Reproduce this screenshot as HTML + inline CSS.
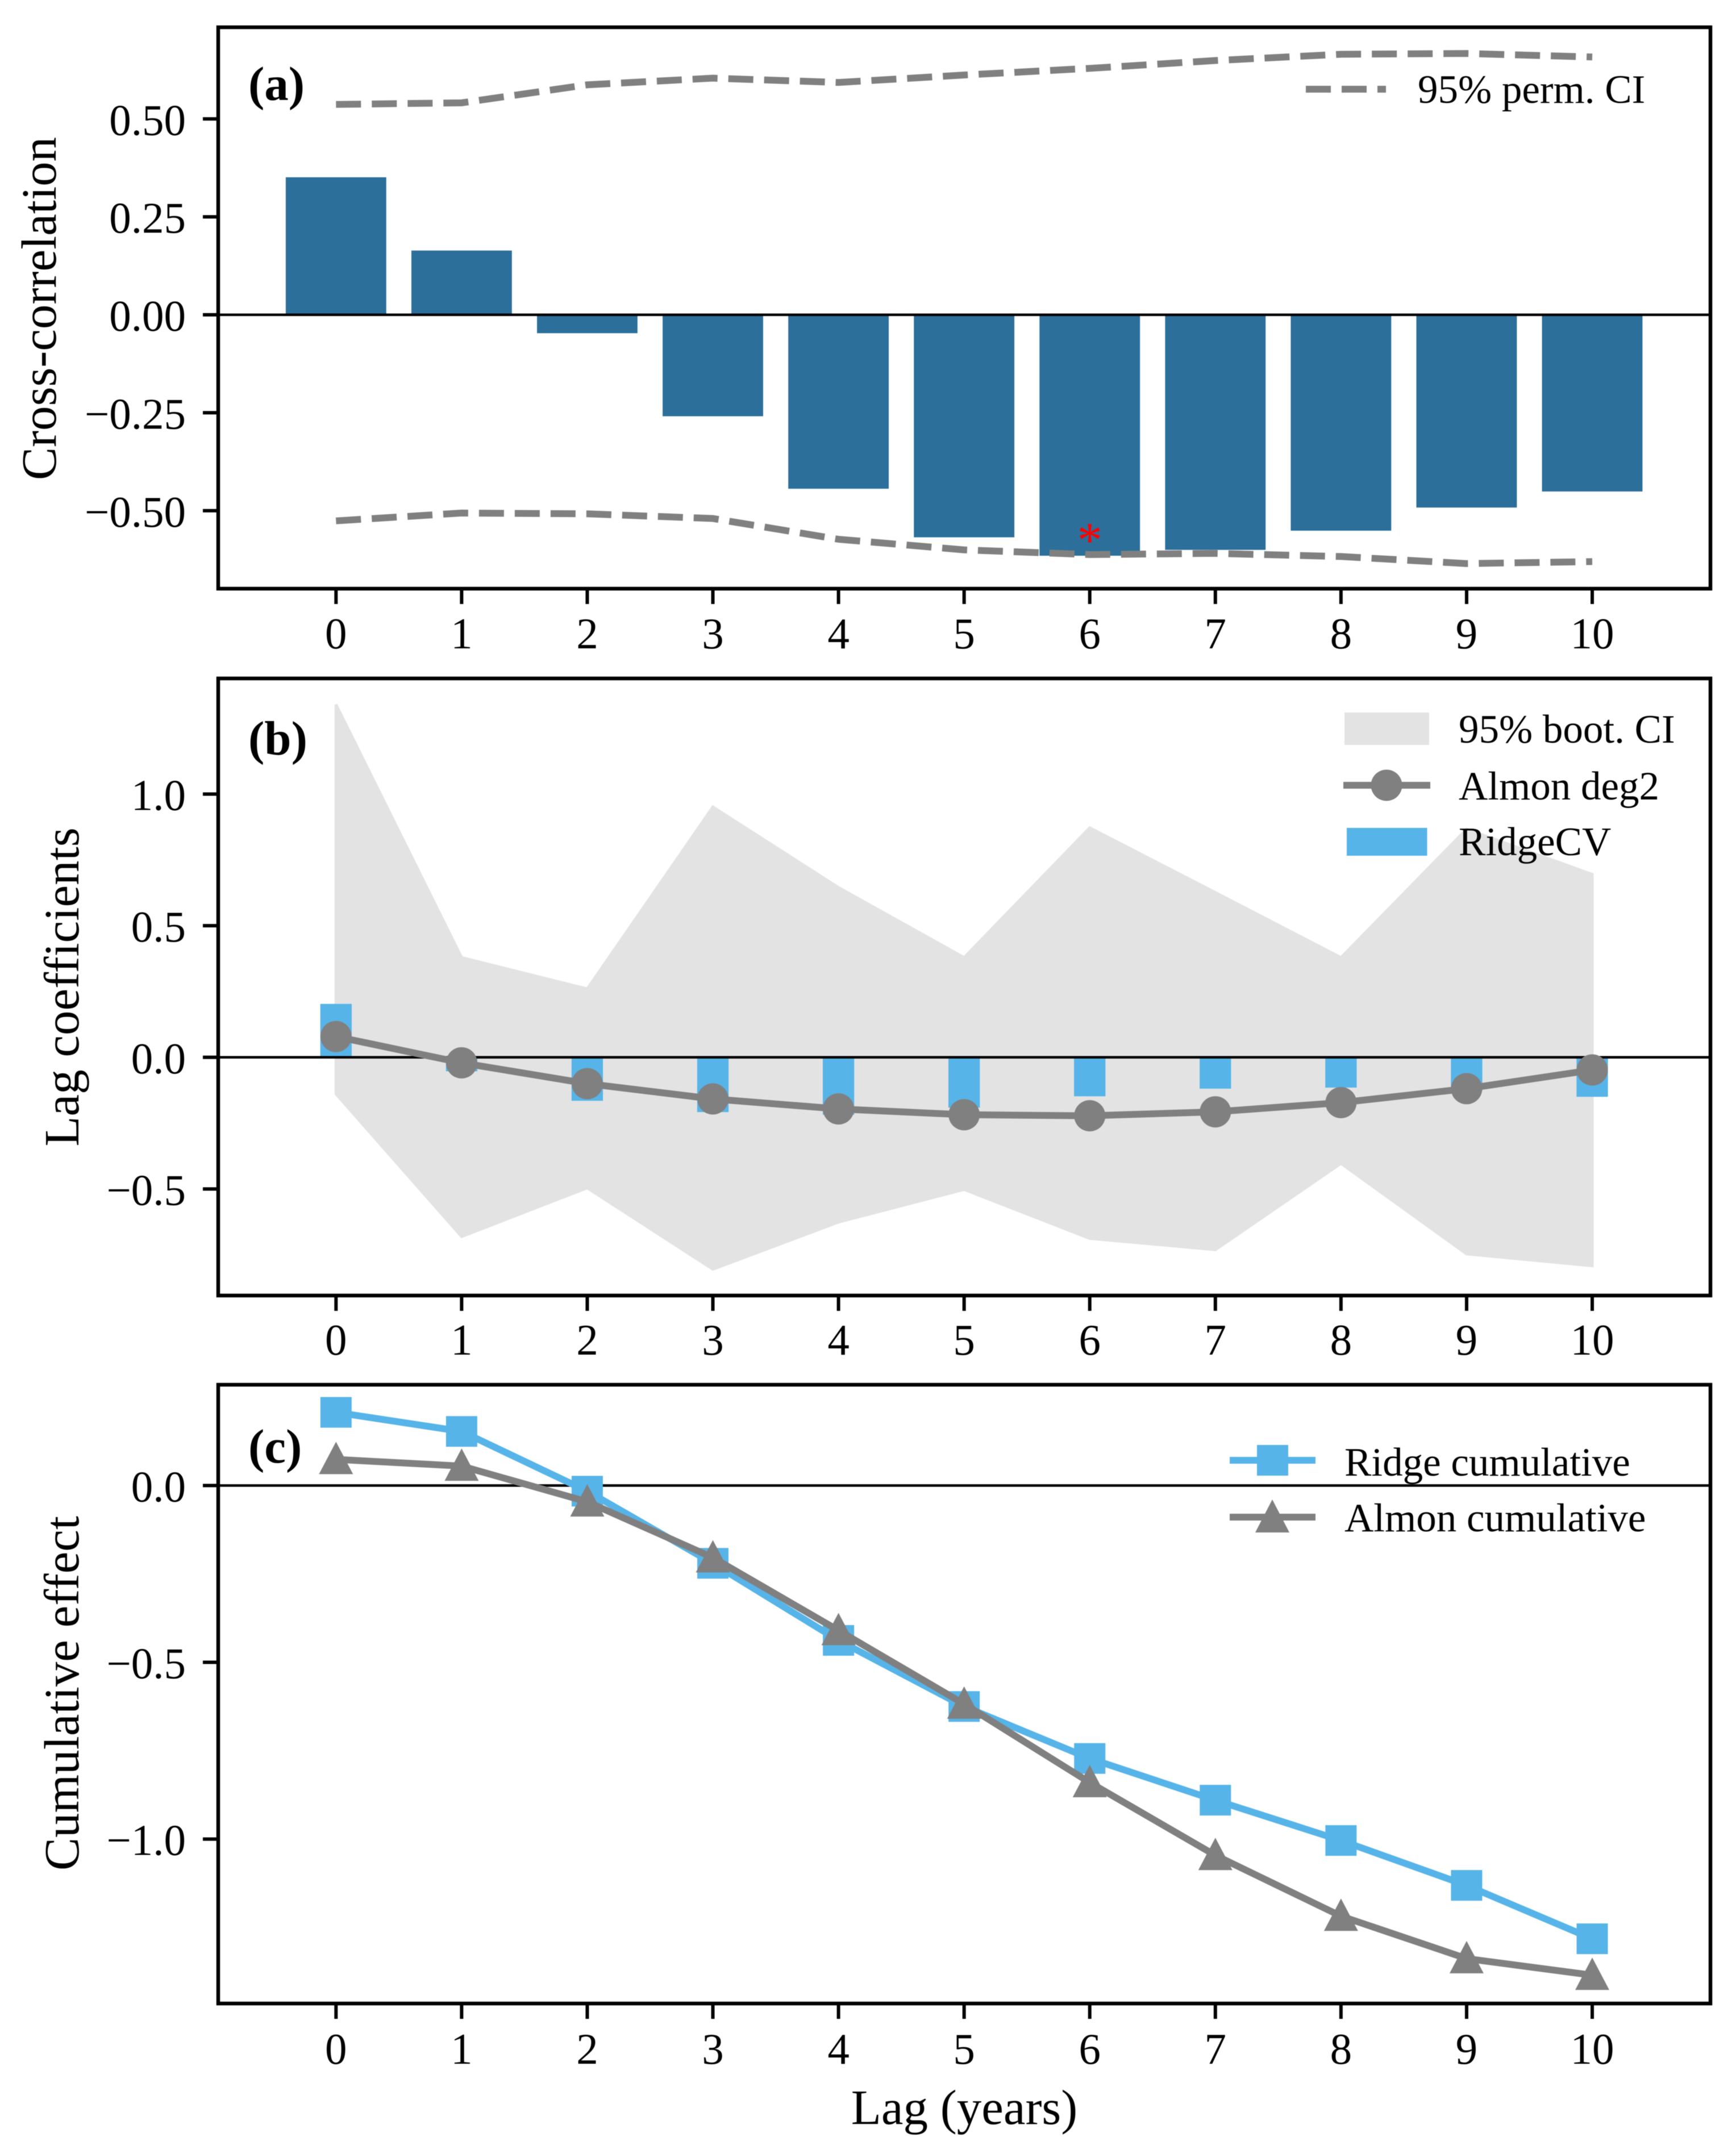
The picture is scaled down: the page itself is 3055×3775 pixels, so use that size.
<!DOCTYPE html>
<html lang="en">
<head>
<meta charset="utf-8">
<title>Lag analysis chart</title>
<style>
html,body{margin:0;padding:0;background:#fff;}
svg{display:block;font-family:"Liberation Serif","Times New Roman",serif;filter:blur(0.6px);}
.tick-label{font-size:77px;fill:#000;}
.axis-title{font-size:87px;fill:#000;}
.legend-text{font-size:71px;fill:#000;}
.panel-label{font-size:85px;font-weight:bold;fill:#000;}
</style>
</head>
<body>
<svg id="chart" xmlns="http://www.w3.org/2000/svg" width="3055" height="3775" viewBox="0 0 3055 3775">
  <rect x="0" y="0" width="3055" height="3775" fill="#ffffff"/>
  <g id="panel-a"></g>
  <g id="panel-b"></g>
  <g id="panel-c"></g>

  <g id="overlay">
    <text class="panel-label" x="437" y="176">(a)</text>
    <text class="panel-label" x="437" y="1328">(b)</text>
    <text class="panel-label" x="437" y="2574">(c)</text>

    <text class="axis-title" text-anchor="middle" transform="translate(98 543) rotate(-90)">Cross-correlation</text>
    <text class="axis-title" text-anchor="middle" transform="translate(138 1737) rotate(-90)">Lag coefficients</text>
    <text class="axis-title" text-anchor="middle" transform="translate(138 2980) rotate(-90)">Cumulative effect</text>
    <text class="axis-title" text-anchor="middle" x="1697" y="3738">Lag (years)</text>

    <g>
      <line x1="2298" y1="157" x2="2439" y2="157" stroke="#808080" stroke-width="12" stroke-dasharray="44 19"/>
      <text class="legend-text" x="2495" y="181">95% perm. CI</text>
    </g>

    <g>
      <rect x="2366" y="1254" width="149" height="57" fill="#e3e3e3"/>
      <text class="legend-text" x="2567" y="1307">95% boot. CI</text>
      <line x1="2364" y1="1382" x2="2517" y2="1382" stroke="#808080" stroke-width="12"/>
      <circle cx="2440" cy="1382" r="27.5" fill="#808080"/>
      <text class="legend-text" x="2567" y="1407">Almon deg2</text>
      <rect x="2370" y="1457" width="141.5" height="49" fill="#56b4e9"/>
      <text class="legend-text" x="2567" y="1505">RidgeCV</text>
    </g>

    <g>
      <line x1="2164" y1="2570" x2="2315" y2="2570" stroke="#56b4e9" stroke-width="12"/>
      <rect x="2212" y="2543" width="55" height="54" fill="#56b4e9"/>
      <text class="legend-text" x="2366" y="2597">Ridge cumulative</text>
      <line x1="2164" y1="2670" x2="2315" y2="2670" stroke="#808080" stroke-width="12"/>
      <polygon points="2239,2639 2269,2697 2209,2697" fill="#808080"/>
      <text class="legend-text" x="2366" y="2695">Almon cumulative</text>
    </g>
  </g>
</svg>

<script>
// ---- data ----
const lags = [0, 1, 2, 3, 4, 5, 6, 7, 8, 9, 10];
const crossCorr = [0.351, 0.164, -0.047, -0.259, -0.444, -0.568, -0.615, -0.600, -0.551, -0.492, -0.451];
const permUpper = [0.537, 0.541, 0.587, 0.604, 0.593, 0.612, 0.629, 0.649, 0.665, 0.667, 0.658];
const permLower = [-0.526, -0.506, -0.508, -0.520, -0.573, -0.600, -0.612, -0.609, -0.617, -0.635, -0.630];
const significantLags = [6];
const bootUpper = [1.340, 0.379, 0.260, 0.951, 0.645, 0.379, 0.872, 0.626, 0.379, 0.867, 0.695];
const bootLower = [-0.139, -0.681, -0.496, -0.805, -0.626, -0.502, -0.688, -0.731, -0.403, -0.747, -0.792];
const ridgeCoef = [0.203, -0.053, -0.165, -0.208, -0.218, -0.191, -0.148, -0.119, -0.115, -0.127, -0.150];
const almonCoef = [0.079, -0.021, -0.100, -0.158, -0.196, -0.218, -0.222, -0.207, -0.172, -0.119, -0.048];
const ridgeCum = [0.207, 0.153, -0.016, -0.220, -0.438, -0.625, -0.772, -0.890, -1.004, -1.131, -1.282];
const almonCum = [0.074, 0.055, -0.046, -0.204, -0.410, -0.618, -0.840, -1.046, -1.218, -1.338, -1.385];
const yTicksA = [0.5, 0.25, 0, -0.25, -0.5];
const yTickLabelsA = ["0.50", "0.25", "0.00", "\u22120.25", "\u22120.50"];
const yTicksB = [1, 0.5, 0, -0.5];
const yTickLabelsB = ["1.0", "0.5", "0.0", "\u22120.5"];
const yTicksC = [0, -0.5, -1];
const yTickLabelsC = ["0.0", "\u22120.5", "\u22121.0"];

// ---- axis functions ----
const AXIS_LEFT = 384, AXIS_RIGHT = 3010;
function xScale(lag) { return 591.3 + 221.07 * lag; }
function yScaleA(v) { return 554 - 689.5 * v; }
function yScaleB(v) { return 1860.8 - 463.3 * v; }
function yScaleC(v) { return 2614.4 - 622.2 * v; }

const NS = "http://www.w3.org/2000/svg";
function make(parent, tag, props) {
  const el = document.createElementNS(NS, tag);
  for (const k in props) el.setAttribute(k, props[k]);
  parent.appendChild(el);
  return el;
}
function linePath(values, yScale) {
  return values.map(function (v, i) { return (i ? "L" : "M") + xScale(lags[i]) + " " + yScale(v); }).join(" ");
}

function drawFrame(g, key, top, bottom, yScale, yTicks, yLabels, xBaseline) {
  const frame = make(g, "rect", { x: AXIS_LEFT, y: top, width: AXIS_RIGHT - AXIS_LEFT, height: bottom - top, fill: "none", stroke: "#000", "stroke-width": 6.5 });
  
  
  lags.forEach(function (lag) {
    const t = make(g, "line", { x1: xScale(lag), x2: xScale(lag), y1: bottom, y2: bottom + 27, stroke: "#000", "stroke-width": 6 });
    
    
    const lab = make(g, "text", { class: "tick-label", x: xScale(lag), y: xBaseline, "text-anchor": "middle" });
    lab.textContent = String(lag);
    
    
  });
  yTicks.forEach(function (v, i) {
    const t = make(g, "line", { x1: AXIS_LEFT - 27, x2: AXIS_LEFT, y1: yScale(v), y2: yScale(v), stroke: "#000", "stroke-width": 6 });
    
    
    const lab = make(g, "text", { class: "tick-label", x: 327, y: yScale(v) + 28, "text-anchor": "end" });
    lab.textContent = yLabels[i];
    
    
  });
}
function zeroLine(g, key, yScale) {
  const z = make(g, "line", { x1: AXIS_LEFT, x2: AXIS_RIGHT, y1: yScale(0), y2: yScale(0), stroke: "#000", "stroke-width": 4.5 });
  
  
}

// ---- panel (a) ----
(function () {
  const g = document.getElementById("panel-a");
  const barW = 0.8 * 221.07;
  crossCorr.forEach(function (v, i) {
    const y0 = yScaleA(0), y1 = yScaleA(v);
    const b = make(g, "rect", { x: xScale(lags[i]) - barW / 2, y: Math.min(y0, y1), width: barW, height: Math.abs(y1 - y0), fill: "#2b6f9a" });
    
    
  });
  zeroLine(g, "a", yScaleA);
  const up = make(g, "path", { d: linePath(permUpper, yScaleA), fill: "none", stroke: "#808080", "stroke-width": 12, "stroke-dasharray": "44 19" });
  
  
  const lo = make(g, "path", { d: linePath(permLower, yScaleA), fill: "none", stroke: "#808080", "stroke-width": 12, "stroke-dasharray": "44 19" });
  
  
  significantLags.forEach(function (lag) {
    const s = make(g, "text", { x: xScale(lag), y: yScaleA(crossCorr[lag]) + 2, "text-anchor": "middle", fill: "#ff0000", "font-size": 88 });
    s.textContent = "*";
    
    
  });
  drawFrame(g, "a", 48, 1036, yScaleA, yTicksA, yTickLabelsA, 1141);
})();

// ---- panel (b) ----
(function () {
  const g = document.getElementById("panel-b");
  const upper = bootUpper.map(function (v, i) { return xScale(lags[i]) + "," + yScaleB(v); });
  const lower = bootLower.map(function (v, i) { return xScale(lags[i]) + "," + yScaleB(v); }).reverse();
  const band = make(g, "polygon", { points: upper.concat(lower).join(" "), fill: "#e3e3e3", stroke: "#e3e3e3", "stroke-width": 5 });
  
  
  const barW = 0.25 * 221.07;
  ridgeCoef.forEach(function (v, i) {
    const y0 = yScaleB(0), y1 = yScaleB(v);
    const b = make(g, "rect", { x: xScale(lags[i]) - barW / 2, y: Math.min(y0, y1), width: barW, height: Math.abs(y1 - y0), fill: "#56b4e9" });
    
    
  });
  zeroLine(g, "b", yScaleB);
  const ln = make(g, "path", { d: linePath(almonCoef, yScaleB), fill: "none", stroke: "#808080", "stroke-width": 12, "stroke-linejoin": "round" });
  
  
  almonCoef.forEach(function (v, i) {
    const c = make(g, "circle", { cx: xScale(lags[i]), cy: yScaleB(v), r: 27.5, fill: "#808080" });
    
    
  });
  drawFrame(g, "b", 1194, 2280, yScaleB, yTicksB, yTickLabelsB, 2384);
})();

// ---- panel (c) ----
(function () {
  const g = document.getElementById("panel-c");
  zeroLine(g, "c", yScaleC);
  const rl = make(g, "path", { d: linePath(ridgeCum, yScaleC), fill: "none", stroke: "#56b4e9", "stroke-width": 12, "stroke-linejoin": "round" });
  
  
  ridgeCum.forEach(function (v, i) {
    const s = make(g, "rect", { x: xScale(lags[i]) - 27.5, y: yScaleC(v) - 27, width: 55, height: 54, fill: "#56b4e9" });
    
    
  });
  const al = make(g, "path", { d: linePath(almonCum, yScaleC), fill: "none", stroke: "#808080", "stroke-width": 12, "stroke-linejoin": "round" });
  
  
  almonCum.forEach(function (v, i) {
    const x = xScale(lags[i]), y = yScaleC(v);
    const t = make(g, "polygon", { points: x + "," + (y - 31) + " " + (x + 30) + "," + (y + 26) + " " + (x - 30) + "," + (y + 26), fill: "#808080" });
    
    
  });
  drawFrame(g, "c", 2437, 3526, yScaleC, yTicksC, yTickLabelsC, 3632);
})();
</script>
</body>
</html>
